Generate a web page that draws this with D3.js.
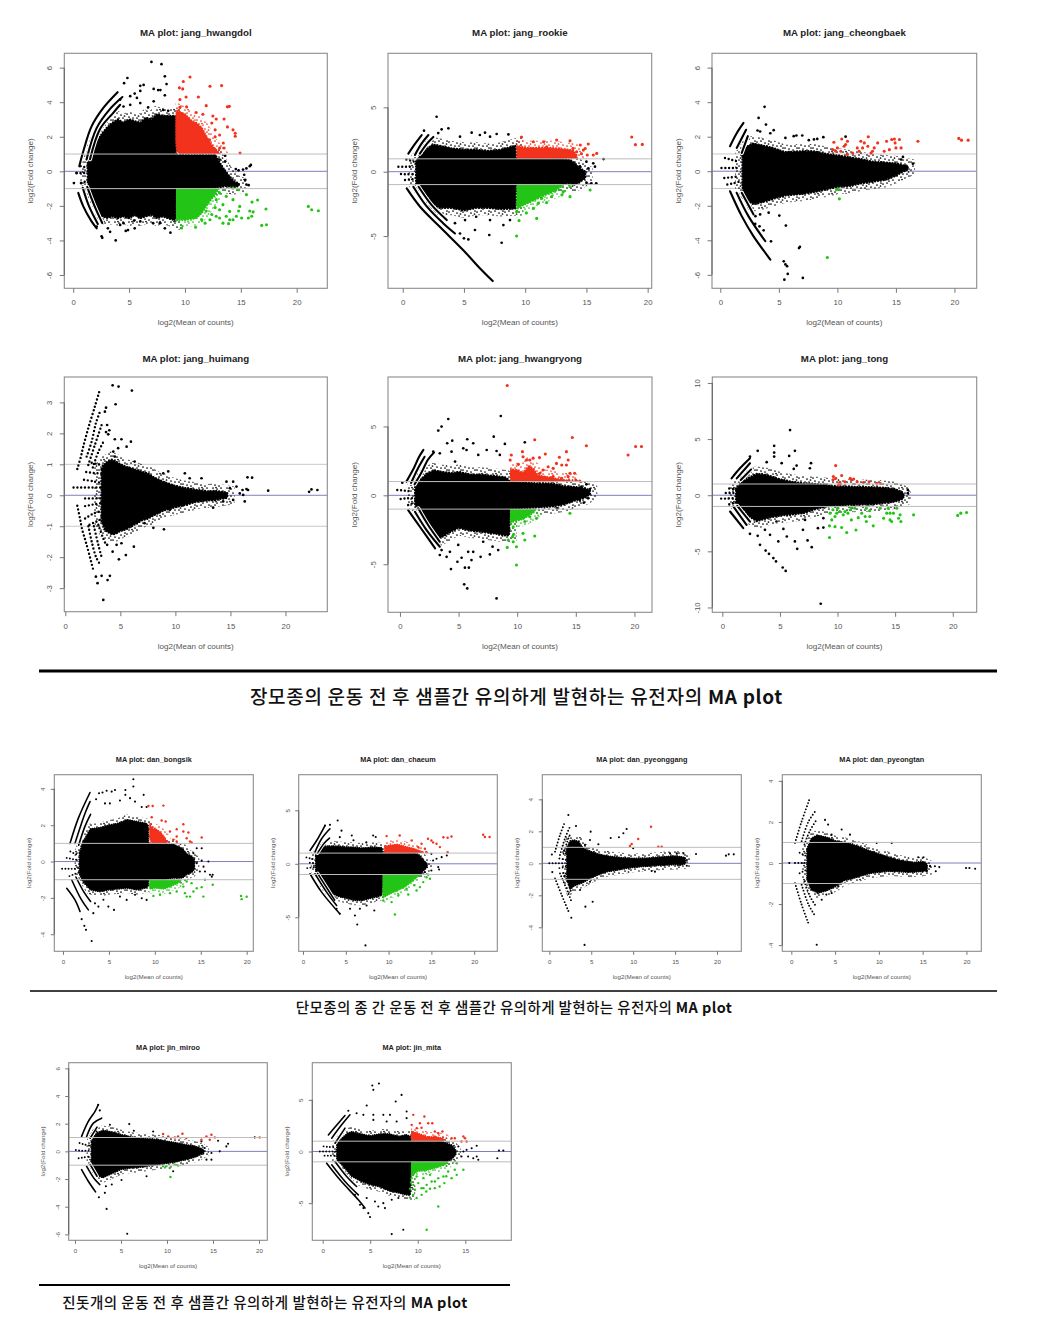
<!DOCTYPE html>
<html><head><meta charset="utf-8">
<script src="https://cdn.jsdelivr.net/npm/d3@7"></script>
<style>html,body{margin:0;padding:0;background:#fff}svg{display:block}</style></head>
<body><svg id="c" width="1043" height="1336"></svg>
<script>
// Every value below was read by eye from the picture. Bands are [A, upper M, lower M]; points are [A, M].
const xTicks = [0,5,10,15,20], xTicksShort = [0,5,10,15];
const yTicks6 = [-6,-4,-2,0,2,4,6], yTicks5 = [-5,0,5], yTicks4 = [-4,-2,0,2,4], yTicks3 = [-3,-2,-1,0,1,2,3], yTicks10 = [-10,-5,0,5,10];

const hwangdolMass = [[1.3,.5,-.6],[1.7,1.1,-1.5],[2.2,1.8,-2.3],[2.6,2.2,-2.6],[3,2.5,-2.7],[3.5,2.8,-2.6],[4,3,-2.7],[4.5,2.8,-2.6],[5,3,-2.7],[5.5,2.9,-2.5],[6,2.8,-2.7],[6.5,3.1,-2.6],[7,3,-2.5],[7.5,3.3,-2.7],[8,3.2,-2.6],[8.5,3.2,-2.7],[9.15,3.2,-2.85],[9.2,.95,-1],[12.7,.95,-.95],[13.2,.4,-.9],[13.6,0,-.85],[14.4,-.6,-.9],[14.8,-.7,-.85]];
const hwangdolRedBand = [[9.15,3.2,1.8],[9.3,3.5,1.2],[9.6,3.4,1],[10,3.3,1],[10.6,2.9,1],[11,2.8,1],[11.5,2.5,1],[12,1.9,1],[12.4,1.5,1],[12.9,1.15,1],[13.1,1,1]];
const hwangdolGreenBand = [[9.2,-1,-2.8],[10,-1,-2.8],[11,-1,-2.7],[11.5,-1,-2.4],[12,-1,-1.9],[12.5,-1,-1.5],[12.8,-1,-1.2],[13,-1,-1]];
const hwangdolArcs = [[[.54,.29],[.9,1.16],[1.64,2.6],[2.69,3.67],[3.97,4.58]],[[1.19,.68],[2.09,2.5],[3.28,3.6],[4.4,4.3]],[[1.5,.7],[2.4,2.45],[3.6,3.4],[4.2,3.85]],[[.45,-1.25],[.9,-2.03],[1.64,-2.9],[2.1,-3.3]],[[.85,-.95],[1.4,-2],[2.2,-3.05]],[[1.25,-.9],[1.9,-2],[2.6,-3]]];
const hwangdolRows = [[[.3,-.1],[.75,-.1],[1.2,-.1]],[[.7,-.68],[1.05,-.6],[1.3,-.5]],[[.65,.3],[1,.25],[1.3,.2]]];
const hwangdolBlack = [[7,6.33],[7.9,6.2],[8.2,5.5],[4.85,5.4],[4.55,5.1],[6,4.95],[6.3,5],[6,4.65],[5.5,4.5],[5.1,4.35],[7.2,4.77],[7.6,4.7],[7.8,4.7],[8.35,5.05],[8.2,4.4],[7.2,4.05],[6.7,3.7],[6,3.95],[5.7,4.25],[5.1,3.85],[4.5,3.75],[8.05,3.55],[8.5,3.5],[4.2,4.15],[2.54,-3.76],[2.6,-3.85],[3.8,-4],[3.1,-3.3],[3.3,-3.5],[2.1,-3.2],[4.7,-3.45],[5.5,-3.3],[4.9,-3.4],[5.45,-2.85],[7.15,-3],[8.2,-3.3],[8.7,-3.55],[6,-2.9],[4.2,-3.1],[4.5,-3],[7.75,-3],[13.6,.9],[13.1,.68],[14.55,.13],[14.8,.06],[15.2,.1],[15.5,.17],[15.8,.3],[15.9,.37],[15.3,-.2],[15.4,-.5],[15.7,-.8],[15.5,-.77],[14.1,-.7],[14.8,-.77],[13.7,-.3],[13.4,.1],[13.6,.58],[.06,-.68],[.3,-.1],[.7,-.68]];
const hwangdolRed = [[9.85,5.2],[10.45,5.46],[9.5,4.83],[9.8,4.77],[12.24,4.92],[13.28,4.96],[11.2,4.3],[10.1,4.3],[9.55,4.15],[11.9,3.8],[13.8,3.73],[13.97,3.76],[12.8,3.03],[13.5,3.03],[13.8,2.57],[14.3,2.4],[14.5,2.2],[14.5,2.03],[13.43,1.64],[13.5,1.35],[14.93,1.06],[12.4,2.8],[12.7,2.4],[13.1,2.1],[12.5,3.2],[11.6,3.3],[11,3.4],[10.15,3.73],[9.55,3.7],[13.1,1.35],[12.8,1.15],[12.2,1.83],[12.7,2]];
const hwangdolGreen = [[9.7,-3.28],[9.25,-2.8],[10.95,-3.24],[11.8,-3],[12.24,-2.8],[12.8,-2.6],[13.4,-3],[13.9,-3.03],[14.3,-2.8],[14.8,-2.3],[15.07,-2.7],[15.67,-2.7],[15.97,-2.6],[16.1,-2.35],[15.8,-2.3],[16,-1.78],[16.5,-1.66],[17.25,-2.18],[16.87,-3.13],[17.3,-3.09],[21.04,-2.03],[21.34,-2.22],[21.94,-2.28],[15.5,-1.35],[14.8,-1.06],[14.3,-.97],[13.1,-1.25],[13.7,-1.45],[12.8,-1.64],[13.4,-1.93],[14.3,-1.64],[14.9,-2.03],[14,-2.32],[13.1,-2.22],[12.7,-2.1],[12.4,-2.5],[11.5,-2.8],[11.9,-2.3],[13.7,-2.6],[13.1,-2.7],[14.6,-2.6],[14,-2.8]];

const rookieMass = [[1.1,.8,-.9],[2,1.8,-1.8],[2.5,2.1,-2.5],[3,2,-2.8],[4,1.8,-2.8],[5,1.7,-3],[6,1.7,-2.8],[7,1.6,-2.8],[8,1.7,-2.9],[9.2,2,-2.85],[9.25,1,-1],[13,1,-1],[13.6,.9,-.9],[14,.7,-1],[14.4,.3,-.8],[14.9,0,-.5]];
const rookieRedBand = [[9.3,2,1],[10,1.85,1],[12,1.85,1],[13,1.75,1],[13.9,1.65,1],[14.2,1.25,1]];
const rookieGreenBand = [[9.3,-1,-2.9],[9.8,-1,-2.6],[10.5,-1,-2.3],[11.5,-1,-1.85],[12.5,-1,-1.45],[13,-1,-1.1]];
const rookieArcs = [[[.46,1.4],[.93,2.07],[1.55,2.85]],[[1,1.3],[1.55,2.2],[2.1,2.85]],[[1.4,1.4],[2,2.2],[2.5,2.7]],[[.33,-1.3],[1.4,-2.7],[3.05,-4.3],[4.95,-6.1],[6.3,-7.5],[7.35,-8.5]],[[.87,-1.17],[1.96,-2.7],[3.3,-4],[4.27,-4.8]],[[1.3,-1.17],[2.37,-2.6],[3.6,-3.76]]];
const rookieRows = [[[-.35,.39],[.27,.39],[.8,.39]],[[-.14,-.18],[.4,-.2],[.95,-.2]],[[.19,-.65],[.6,-.6],[1,-.55]],[[.3,.95],[.7,.85],[1,.75]]];
const rookieBlack = [[2.77,4.27],[1.74,3.19],[3.18,3.29],[3.73,3.37],[2.9,3],[5.63,3.03],[6.72,3.03],[7.67,2.93],[8.63,2.9],[6.3,2.85],[4.68,2.72],[7.13,2.72],[8.08,-5.52],[7.07,-4.92],[5.36,-5.26],[5,-5.18],[5.9,-4.53],[5.09,-3.76],[4.27,-4],[4.68,-4.8],[8.22,-4.15],[7.13,-3.76],[6,-3.5],[8.76,-3.76],[16.4,.98],[15.56,.65],[15,.78],[15,-.85],[15.4,-.9],[15.8,-.9],[14.5,-.26],[13.9,.39],[15.16,.26],[15.7,.39],[14.47,.39]];
const rookieRed = [[9.7,2.7],[18.7,2.7],[19,2.1],[19.56,2.12],[12.57,2.46],[13.66,2.4],[14.5,2.07],[15.15,2.15],[14.9,1.8],[14.6,1.4],[15.84,1.42],[15.56,1.3],[15.07,1.3],[11.5,2.33],[10.67,2.33],[11.75,1.94],[14.2,1.55],[14.75,1.68],[13.9,1.8]];
const rookieGreen = [[9.5,-3.8],[10.94,-3.63],[9.3,-5],[10.1,-3.2],[9.3,-3.1],[12.3,-1.3],[13,-1.8],[13.66,-1.94],[13.66,-1.17],[13.1,-1.55],[15.3,-1.42],[11.75,-2.4],[11.35,-2.07],[12.16,-1.94],[10.67,-2.85],[11.07,-2.46]];

const cheongbaekMass = [[1.9,.9,-.9],[2.2,1.4,-1.6],[2.8,1.6,-1.9],[3.5,1.5,-1.8],[4.5,1.35,-1.6],[5.5,1.1,-1.4],[7,1.15,-1.3],[8,1.15,-1.2],[9,1,-1.05],[10,.9,-.9],[11,.8,-.85],[12,.7,-.7],[13,.55,-.6],[14,.5,-.5],[15,.45,-.25],[15.5,.35,-.05],[16,.3,.1]];
const cheongbaekArcs = [[[.83,1.45],[1.4,2.2],[1.98,2.8]],[[1.4,1.35],[2.2,2.4]],[[1.83,1.06],[2.35,2.03]],[[.83,-1.16],[1.83,-2.6],[2.84,-3.77],[4.27,-5.12]],[[1.4,-1.25],[2.4,-2.6],[3.84,-4.05]],[[1.83,-1.25],[2.84,-2.5]]];
const cheongbaekRows = [[[.1,.19],[.69,.19],[1.2,.19],[1.7,.19]],[[.34,-.39],[.95,-.35],[1.5,-.3]],[[.4,.77],[1,.65],[1.6,.55]],[[.6,-.77],[1.1,-.7],[1.65,-.6]]];
const cheongbaekBlack = [[3.78,3.73],[3.27,3.09],[3.9,2.7],[3.18,2.36],[3.4,2.3],[4.56,2.38],[4.27,2.2],[6.27,2.03],[7,2.07],[6.5,2.07],[5.56,1.93],[8,1.84],[8.8,1.97],[10.7,2],[8.28,1.87],[7.56,1.8],[16.45,.44],[15.73,.29],[15.44,.68],[15.6,.83],[2.98,-3.05],[3.35,-3.19],[3.7,-3.42],[4.33,-4.06],[5.04,-2.57],[5.6,-3.15],[6.8,-4.38],[6.72,-4.45],[5.42,-5.22],[5.56,-5.4],[5.7,-5.5],[5.76,-5.95],[5.47,-6.28],[7.05,-6.18],[3.4,-2.5],[4.13,-2.4],[3,-2.6]];
const cheongbaekRed = [[9.7,1.68],[10,1.35],[10.57,1.45],[10.86,1.74],[10.37,1.87],[11.3,1.06],[12,1.74],[12.15,1.35],[12.6,1.45],[12.64,2],[13,1.16],[13.44,1.64],[13.15,1.35],[14.2,1.74],[14.44,1.25],[14.64,1.84],[14.93,1.64],[15.3,1.84],[15.44,1.35],[16.88,1.74],[20.37,1.9],[20.6,1.8],[21.17,1.8],[9.86,1.16],[10.29,1.16],[10.7,1.55],[11.86,1.16],[12.3,1.64],[14,1.16],[15,1.35],[14.87,1.87],[10.86,.97],[11.7,1.35],[12.87,1.06],[9.6,1.25]];
const cheongbaekGreen = [[10.06,-1.02],[9.92,-1.07],[10.17,-1.6],[9.14,-5]];

const huimangMass = [[3.3,.85,-.85],[3.7,1.05,-1.15],[4.2,1.15,-1.25],[4.5,1.1,-1.25],[5,1,-1.15],[5.5,.92,-1.1],[6,.87,-1],[7,.75,-.8],[7.5,.7,-.75],[8,.58,-.65],[9,.42,-.48],[10,.3,-.38],[11,.22,-.3],[12,.17,-.2],[13,.12,-.16],[13.5,.14,-.16],[14,.12,-.12],[14.7,.08,-.08]];
const huimangRows = [[[1.09,.85],[1.42,1.25],[1.63,1.57],[2.09,2.17],[2.69,2.87],[3.09,3.35]],[[1.94,1.25],[2.39,1.73],[2.78,2.33],[3.15,2.7]],[[2.09,.98],[2.69,1.63],[3.3,2.27]],[[2.5,.9],[3,1.4],[3.5,1.75]],[[.75,.25],[1.4,.25],[1.9,.25],[2.4,.25],[2.9,.25],[3.4,.25]],[[1.7,.5],[2.6,.45],[3.3,.4]],[[1.9,.75],[2.6,.72],[3.3,.7]],[[2.4,1.05],[3,1],[3.5,.95]],[[1.8,-.1],[2.5,-.1],[3.3,-.1]],[[1.8,-.35],[2.5,-.3],[3.3,-.25]],[[1.8,-.75],[2.5,-.6],[3.3,-.5]],[[2.2,-.95],[2.8,-.85],[3.4,-.75]],[[1.09,-.34],[1.33,-.74],[1.51,-1.07],[1.94,-1.6],[2.54,-2.41]],[[2.1,-1],[2.4,-1.5],[2.8,-2],[3.1,-2.2]],[[2.6,-1],[3,-1.6],[3.3,-2]],[[3,-.95],[3.4,-1.35],[3.7,-1.6]]];
const huimangBlack = [[4.3,3.55],[4.84,3.51],[6.05,3.38],[4.57,2.94],[3.7,2.83],[3.6,2.7],[3.8,2.27],[3.7,2.04],[4,2.1],[3.9,1.97],[4.5,1.81],[5.1,1.81],[5.96,1.73],[5.57,1.57],[4.8,1.52],[4.36,1.41],[4.5,1.25],[6.3,1.09],[2.78,-2.63],[3.3,-2.6],[4.05,-2.6],[3.84,-2.74],[2.93,-2.84],[3.45,-3.38],[4.87,-2.07],[5.5,-1.93],[6.23,-1.66],[4.3,-1.82],[4.66,-1.6],[5.1,-1.55],[3.8,-1.6],[8.96,-1.1],[8,-1.05],[7.2,-.9],[16.55,.58],[16.97,.57],[18.43,.15],[22.15,.11],[22.36,.19],[22.9,.17],[16.46,.2],[16.6,.17],[16.1,.17],[14.64,.44],[15.25,.44],[15.55,.28],[15.85,.06],[16.16,.01],[14.95,.23],[15.25,-.15],[16.3,-.2],[14.34,-.2],[13.43,-.4],[10.86,.71],[12.37,.55],[11.3,.55],[9.35,.77],[8.9,.71],[9.5,-.47],[10.7,-.31]];

const hwangryongMass = [[1.3,.7,-.7],[1.8,1.15,-1.35],[2.3,1.55,-2.1],[2.9,1.8,-2.85],[3.5,1.7,-3.05],[4.5,1.6,-2.55],[5,1.7,-2.35],[6,1.5,-2.55],[7,1.5,-2.65],[8,1.4,-2.75],[9,1.3,-2.9],[9.3,1.1,-2.9],[9.35,1,-1],[12,.85,-.85],[13,.85,-.8],[14,.65,-.65],[15,.6,-.35],[15.8,.5,-.15],[16.2,.35,.1]];
const hwangryongRedBand = [[9.4,1.9,1],[10,1.8,1],[10.5,1.6,1],[11,2.1,1],[11.4,1.9,1],[11.7,1.45,1],[13,1.25,1],[14,1.1,1],[14.5,1.05,1]];
const hwangryongGreenBand = [[9.4,-1,-2],[9.8,-1,-1.85],[10.5,-1,-1.7],[11,-1,-1.45],[11.5,-1,-1.15]];
const hwangryongArcs = [[[.55,1],[1.2,2],[1.6,2.75],[2,3.3]],[[.95,.9],[1.5,1.9],[2.1,2.8]],[[1.25,.8],[1.8,1.6],[2.4,2.6],[2.9,3.1]],[[.7,-1.07],[1.7,-2.28],[3,-3.85]],[[1.28,-1.19],[2.27,-2.52],[3.4,-3.73]],[[1.56,-.94],[2.4,-2.15],[3.4,-3.37]]];
const hwangryongRows = [[[-.23,.39],[.43,.34],[1,.3]],[[.06,-.27],[.5,-.22],[1.1,-.2]],[[.7,-.7],[1,-.6],[1.3,-.5]]];
const hwangryongBlack = [[8.6,5.76],[4.12,5.54],[3.55,4.99],[3.27,4.7],[5.74,4.07],[4.46,3.97],[4.03,3.78],[8,4.26],[8.95,3.73],[6.25,3.78],[10.65,3.85],[5.4,3.41],[5.68,3.29],[7.4,3.29],[8.24,3.22],[8.52,2.93],[4.4,3.17],[3.4,3.05],[2.84,3.17],[6.68,2.93],[4.7,2.45],[8.24,-7.48],[5.48,-6.46],[5.74,-6.76],[4.35,-5.35],[4.9,-4.82],[5.54,-5.25],[5.88,-5.25],[5.26,-4.53],[6.1,-4.7],[6.25,-4.1],[6.88,-4.46],[7.67,-4.29],[7.9,-3.73],[8.38,-3.97],[3.4,-4.33],[3.98,-4.46],[4.26,-4.1],[4.97,-3.6],[5.82,-4.1],[7.1,-3.37],[3.55,-3.97],[16.2,.46],[15.9,.8],[15.48,.63],[16.05,-.22],[15.68,-.53],[15.34,-.34],[13.4,-.94],[12.8,-.7],[.2,.92]];
const hwangryongRed = [[9.15,7.97],[11.5,4.04],[14.7,4.2],[15.9,3.6],[19.46,2.93],[20.1,3.54],[20.6,3.54],[14.2,3.17],[12.4,3],[11.9,2.74],[11.36,2.7],[11.08,2.57],[10.45,3.17],[10.5,2.8],[9.5,2.93],[9.4,2.57],[13.6,2.76],[14.35,2.57],[13.35,2.32],[13.8,2.2],[14.2,2.2],[12.64,2.08],[14.5,1.6],[14.9,1.6],[15,1.11],[15.34,1.04],[14.35,1.36],[13.07,1.96],[11.93,1.6],[12.2,1.84],[10.1,2.25],[10.8,2.57],[13.8,1.23],[13.07,1.36]];
const hwangryongGreen = [[9.94,-5.06],[14.5,-1.3],[11.65,-1.67],[11.5,-2.95],[10.65,-3.24],[10.5,-2.76],[9.94,-3.73],[9.15,-3.78],[9.23,-3.24],[9.6,-3],[9.66,-2.28],[10.65,-1.9],[11.08,-1.55],[9.66,-3.37],[9.7,-2.83]];

const tongMass = [[1.2,.6,-.7],[1.8,1.25,-1.25],[2.5,1.65,-2],[3,1.9,-2.3],[4,1.75,-2],[5,1.4,-1.8],[6,1.2,-1.7],[7,1.05,-1.6],[8,1,-1.25],[9,.9,-1],[9.5,.8,-.95],[11,.75,-.85],[13,.7,-.8],[14,.65,-.7],[15,.55,-.55],[15.7,.2,-.3]];
const tongArcs = [[[.8,1.5],[1.53,2.4],[2.4,3.3]],[[1.25,1.5],[2.4,2.85]],[[1.6,1.35],[2.5,2.3]],[[.67,-1.45],[1.82,-2.94]],[[.95,-1],[2.1,-2.64]],[[1.3,-.95],[2.4,-2.35]]];
const tongRows = [[[-.1,-.3],[.5,-.3],[1.1,-.25]],[[.3,.2],[.7,.2],[1.15,.2]],[[.6,.6],[1,.55]],[[.6,-.8],[1,-.7]]];
const tongBlack = [[5.88,5.8],[4.5,4.4],[3.07,3.95],[6.3,3.95],[4.5,3.8],[5.8,3.5],[4.5,3.44],[2.4,3.44],[3.85,2.94],[7.7,2.85],[5.15,2.85],[6.45,2.64],[6.2,2.34],[7.6,2.4],[8.54,-9.67],[5.5,-6.74],[5.24,-6.44],[4.66,-5.9],[4.43,-5.6],[4.05,-5.22],[3.76,-4.93],[3.27,-4.42],[7.76,-4.63],[6.5,-4.78],[6.3,-4.12],[7.4,-4.03],[5.6,-3.68],[4.86,-4.12],[2.4,-3.44],[3.07,-3.62],[4.14,-3.53],[3.7,-3.08],[5.3,-3],[8.3,-2.94],[8.77,-2.88],[7,-3.08],[8.77,-2.05],[7.18,-2.2],[4.7,-2.34],[16.1,.47],[16.1,.18],[15.7,-.03],[15,-.4]];
const tongRed = [[9.84,2.64],[9.64,1.66],[9.84,1.5],[10.36,1.75],[9.6,1.37],[10.2,1.16],[10.65,1.2],[11.1,1.5],[11.4,1.45],[11.7,1.2],[12.24,1.13],[12.74,1.2],[13.4,1.07],[13.7,1.07],[10.07,.92],[11.2,1.37]];
const tongGreen = [[9.3,-3.77],[9.3,-2.73],[9.78,-2.8],[10.36,-2.88],[10.8,-3.32],[11.6,-3.1],[13.1,-2.73],[9.5,-2.2],[9.93,-1.6],[10.5,-1.75],[11.1,-1.3],[11.5,-1.16],[11.8,-2],[11.2,-2.2],[12.5,-1.16],[12.8,-1.37],[12.4,-1.9],[12.5,-2.34],[12.8,-1.9],[13.7,-1.16],[14.4,-1.16],[14.56,-1.6],[14.27,-1.6],[14.56,-2.2],[14.85,-1.6],[15.14,-1.16],[15.43,-1.75],[15.3,-2.05],[15.5,-2.34],[16.6,-1.75],[20.43,-1.8],[20.7,-1.6],[21.2,-1.54],[10.2,-1.45],[10.65,-1.45],[9.6,-1.3],[9.35,-1.6],[9.78,-1.9],[14,-2.05],[12.1,-1.6],[10.9,-1.6],[10,-1.16],[14.7,-2.34],[11.2,-1.1]];

const bongsikMass = [[1.8,.5,-.7],[2.2,1.1,-1.1],[3,1.8,-1.55],[4,1.85,-1.65],[5,2,-1.55],[6,2.1,-1.5],[7,2.3,-1.45],[8,2.2,-1.55],[9,2.1,-1.45],[9.25,2,-1.35],[9.3,1,-1],[11,.95,-1],[12,.95,-.9],[13,.7,-.9],[13.5,.4,-.7],[14,.3,-.6],[14.3,.1,-.4]];
const bongsikRedBand = [[9.4,2.1,1.3],[9.7,1.8,1],[10,1.8,1],[10.5,1.65,1],[11,1.35,1],[11.3,1.1,1]];
const bongsikGreenBand = [[9.4,-1,-1.5],[10,-1,-1.45],[11,-1,-1.5],[12,-1,-1.3],[12.8,-1,-1.1]];
const bongsikArcs = [[[.76,1],[1.67,2.39],[2.94,3.8]],[[1.3,1],[2.4,2.66],[2.94,3.3]],[[1.7,.9],[2.4,1.95],[3,2.6]],[[.4,-1.47],[1.3,-2.11],[1.85,-2.75]],[[.94,-1],[2,-2.1],[2.76,-2.66]],[[1.4,-.85],[2.3,-1.7],[3,-2.2]]];
const bongsikRows = [[[-.1,-.4],[.4,-.4],[.8,-.4],[1.2,-.4],[1.7,-.35]],[[.4,.2],[.9,.15],[1.4,.1],[1.8,.1]],[[.8,.55],[1.2,.45],[1.7,.35]],[[.7,-.8],[1.2,-.7],[1.7,-.6]]];
const bongsikBlack = [[7.66,4.53],[7.66,4.13],[8.78,3.67],[6.79,3.94],[6.79,3.67],[5.66,3.94],[4.75,3.9],[3.92,3.76],[4.3,3.8],[5.3,3.85],[3.6,3.43],[4.57,3.2],[5.1,3.2],[6.2,3.36],[7.3,3.49],[7.84,3.3],[8.57,3],[9.1,3],[3.12,-4.37],[2.5,-3.76],[2.32,-3.54],[2.03,-3.17],[3.3,-2.84],[5.55,-2.66],[4.94,-2.48],[3.85,-2.48],[6.93,-2.11],[7.84,-1.83],[8.57,-2.02],[9.1,-2.11],[4.4,-2.1],[6.2,-1.93],[3.48,-2.3],[16.3,-.73],[16,-.73],[15.83,0],[15.1,.05],[15.1,.73],[14.56,.73],[14.2,.46],[15.46,-.55],[14.9,-.55],[14.56,-.09],[14.2,-.28],[15.3,-.28],[16.2,-.83]];
const bongsikRed = [[9.3,3.06],[9.76,3.06],[10.93,3.08],[13.1,2.05],[15.1,1.32],[13.65,1.6],[13.1,1.65],[12.38,1.78],[13.83,1.1],[13.47,1.28],[12.38,1.38],[11.65,1.65],[11.18,2.2],[10.74,2.26],[9.66,2.44],[14,1.05],[12,1.2],[12.38,1.1]];
const bongsikGreen = [[19.38,-1.89],[19.45,-2.07],[20,-1.94],[15.28,-1.93],[16.3,-1.28],[15.46,-1],[15.1,-1.41],[14.56,-1.47],[13.83,-1.93],[13.47,-1.93],[13.28,-1.74],[12.38,-1.65],[14.2,-1.65],[13.1,-1.38],[9.84,-1.89],[10.56,-1.83],[11.65,-1.74],[14,-1.19],[13.47,-1.1]];

const chaeumMass = [[1.5,.8,-.8],[2,1.3,-1.4],[2.5,1.6,-2.1],[3,1.65,-2.55],[4,1.65,-3],[5,1.55,-3.2],[6,1.55,-3.4],[7,1.45,-3.4],[8,1.55,-3.2],[9.2,1.5,-2.95],[9.3,1,-1],[13,1,-1],[13.4,.9,-1],[13.8,.6,-.9],[14.1,.3,-.6],[14.5,0,-.3]];
const chaeumRedBand = [[9.5,1.6,1],[10,1.7,1],[11,1.8,1],[12,1.6,1],[13,1.4,1],[14,1.1,1]];
const chaeumGreenBand = [[9.3,-1,-3.2],[10,-1,-2.85],[11,-1,-2.5],[12,-1,-2.1],[13,-1,-1.45],[13.6,-1,-1.05]];
const chaeumArcs = [[[.82,1.25],[1.6,2.18],[2.57,3.58]],[[1.4,1.09],[2.18,2.34],[3.15,3.27]],[[1.7,1],[2.5,1.95],[3.1,2.4]],[[.82,-.93],[2.18,-2.65],[4.3,-4.67]],[[1.4,-.93],[2.76,-2.65],[3.93,-3.9]],[[1.7,-.9],[2.9,-2.4],[3.7,-3.4]]];
const chaeumRows = [[[.4,.6],[.9,.5],[1.4,.4]],[[.5,-.4],[.95,-.35],[1.45,-.3]],[[.8,.1],[1.4,.05]]];
const chaeumBlack = [[4.05,4.05],[4.5,3.1],[3.15,3.64],[2.57,3.58],[4.3,2.49],[5.7,2.65],[8.2,2.65],[8.5,2.5],[7.4,2],[5.9,2.2],[7.3,-7.63],[6.34,-5.67],[8.33,-4.36],[6.07,-4.83],[6.65,-4.2],[4.3,-4.67],[3.93,-4.2],[5.5,-4.2],[7.43,-3.9],[16.8,.78],[16.2,.62],[15.8,-.31],[15.9,-.53],[15.2,.31],[15.6,.47],[15,-.62],[14.24,-.78],[15,.93]];
const chaeumRed = [[21.05,2.71],[21.25,2.5],[21.8,2.5],[17.35,2.55],[16.9,2.43],[16.4,2.49],[16.9,1.09],[16,1.56],[15.2,2],[14.6,2.34],[15.6,1.87],[15,2.18],[9.77,2.59],[11.3,2.65],[12.7,2.18],[13.85,1.87],[14.24,1.4],[14.43,1.09],[13.46,1.56]];
const chaeumGreen = [[10.74,-4.74],[9.38,-3.43],[10.35,-3.58],[11.13,-2.96],[12.3,-2.87],[13.27,-2.49],[13.66,-2.18],[14.83,-1.4],[14.43,-1.25],[14.05,-1.71],[13,-2],[12.1,-2.34],[14.63,-1.03]];

const pyeonggangMass = [[2.1,.9,-.95],[2.5,1.4,-1.6],[3,1.45,-1.4],[3.5,1.35,-1.3],[4,.95,-1.2],[5,.72,-.9],[6,.55,-.68],[7,.45,-.5],[8,.38,-.42],[9,.33,-.33],[10,.3,-.25],[11,.3,-.2],[12,.33,-.17],[13,.38,-.12],[14,.42,-.1],[15,.45,-.08],[15.8,.4,-.08],[16.2,.35,-.04]];
const pyeonggangRows = [[[.68,.73],[1.27,1.77],[1.87,2.6]],[[1.27,.52],[1.87,1.56],[2.47,2.3]],[[1.7,.6],[2.1,1.3],[2.5,1.85]],[[.68,-.94],[1.47,-1.98],[2.27,-2.98]],[[1.27,-.63],[2.27,-1.88],[2.65,-2.4]],[[1.7,-.6],[2.2,-1.2],[2.6,-1.8]],[[0,0],[.6,0],[1.2,0],[1.8,0]],[[1.2,.3],[1.7,.25],[2.1,.2]],[[1.2,-.3],[1.7,-.25],[2.1,-.2]],[[1.75,.8],[2,.6]],[[1.75,-.8],[2,-.6]]];
const pyeonggangBlack = [[2.27,3.02],[3.18,2.33],[9.22,2.15],[8.83,1.88],[8.3,1.63],[7.32,1.58],[4.93,1.98],[4.85,1.46],[5.85,1.19],[4.25,1.15],[10,.94],[4.3,-2.71],[5.17,-2.4],[4.2,-5.1],[2.62,-3.4],[17.5,.58],[21.07,.48],[21.4,.56],[22,.56],[14.4,.62],[15.2,.62],[16,.62],[16.4,.2],[16.4,-.15],[15.6,-.1],[12.6,-.52],[12.2,-.48],[3.66,-1.67],[4.85,-1.15],[.3,.55],[.35,-.55]];
const pyeonggangRed = [[12.13,2.29],[10.6,1.52],[9.82,1.21],[9.62,1.08],[13,1.04],[13.4,1.04]];

const pyeongtanMass = [[1.8,.7,-.8],[2.3,1.2,-1.3],[3,1.35,-1.45],[4,1.25,-1.35],[5,1.08,-1.15],[6,1,-.85],[7,.9,-.75],[8,.75,-.62],[9,.58,-.5],[10,.44,-.44],[11,.3,-.4],[12,.17,-.4],[13,.08,-.44],[14,.03,-.44],[15,.06,-.4],[15.5,-.05,-.36]];
const pyeongtanRows = [[[.42,.98],[1.18,2.03],[2.06,3.09]],[[1.18,1.06],[1.94,2],[2.7,2.5]],[[1.5,.9],[2.1,1.55],[2.8,2.05]],[[.42,-.98],[1.18,-2.03],[1.94,-2.93]],[[1.18,-1.06],[1.94,-2],[2.6,-2.5]],[[1.5,-.9],[2.1,-1.6],[2.8,-2.1]],[[.8,0],[1.3,0],[1.8,0]],[[.95,.5],[1.4,.4],[1.9,.3]],[[.95,-.5],[1.4,-.4],[1.9,-.3]]];
const pyeongtanBlack = [[2.9,-3.98],[3.85,2.1],[4.2,1.87],[5.75,1.63],[4.6,1.38],[9.75,.98],[11.47,.98],[6.7,1.38],[4,-1.54],[4.6,-1.46],[5.37,-1.14],[3.47,-1.79],[21,-.28],[20.34,-.24],[19.96,-.24],[16.9,-.2],[16.4,-.16],[16.5,-.4],[15.1,.28],[14.5,.28],[15.85,-.16],[15.47,-.4],[-.23,0],[.42,0]];

const mirooMass = [[1.8,.7,-.8],[2.3,1.3,-1.65],[3,1.5,-1.9],[4,1.4,-1.6],[5,1.2,-1.3],[6,1.05,-1.2],[7,.95,-1.15],[8,.9,-1.05],[9,.85,-.95],[10,.72,-.85],[11,.62,-.75],[12,.48,-.58],[13,.38,-.42],[13.8,.18,-.18],[14,.1,-.1]];
const mirooArcs = [[[.72,1.08],[1.45,2.16],[2.17,2.88],[2.53,3.37]],[[1.27,1.08],[2,2.04],[2.9,2.4]],[[1.65,.95],[2.4,1.75]],[[.72,-1.32],[1.45,-2.16],[2.24,-2.93]],[[1.27,-1.08],[2.17,-2.04],[2.7,-2.4]],[[1.65,-.95],[2.4,-1.8]]];
const mirooRows = [[[.1,.1],[.6,.05],[1.2,.05],[1.7,.05]],[[.4,-.5],[.9,-.45],[1.7,-.35]],[[.5,.6],[1,.5],[1.7,.4]]];
const mirooBlack = [[3.44,-4.16],[5.68,-5.96],[2.6,-3.32],[3.25,-3],[3.36,-2.52],[4,-2.4],[5.06,-2.07],[5.9,1.97],[2.53,3.37],[2.7,2.96],[3.8,1.92],[7.78,-1.8],[8.5,1.44],[6.4,1.49],[19.53,1.01],[16.64,.55],[16.45,.36],[15.73,0],[14.83,-.12],[14.29,-.6],[15.55,.77],[14.83,-.6],[13.74,.72],[14.1,.24],[10.67,-1.44],[2.35,1.44]];
const mirooRed = [[20.07,1.01],[9.58,1.25],[10.13,1.08],[10.85,1.01],[11.68,1.27],[12.1,.96],[14.29,1.08],[14.83,1.2],[15.19,1.01],[14.65,.84],[13.74,.84],[11.2,1.08]];
const mirooGreen = [[10.38,-1.85],[9.58,-1.08],[9.9,-1.08],[10.3,-1.2],[11.2,-1.03],[10.85,-.96]];

const mitaMass = [[1.5,.7,-.8],[2,1.25,-1.25],[2.6,1.75,-1.9],[3,1.9,-2.35],[4,1.7,-2.85],[5,1.5,-3.2],[6,1.7,-3.4],[7,1.7,-3.8],[8,1.45,-4],[8.8,1.6,-4.2],[9.2,1.45,-4.2],[9.3,1,-1],[12.5,1,-1],[13,.8,-1],[13.6,.6,-.7],[14,.1,-.3]];
const mitaRedBand = [[9.3,1.95,1],[10,1.75,1],[11,1.4,1],[12,1.4,1],[12.7,1.25,1]];
const mitaGreenBand = [[9.3,-1,-2.4],[10,-1,-1.9],[11,-1,-1.8],[12,-1,-1.55],[13,-1,-1.2]];
const mitaArcs = [[[.6,1.6],[1.65,2.74],[2.35,3.48]],[[.95,1.29],[2,2.58],[2.87,3.55]],[[1.3,.8],[2.35,2.26]],[[.42,-1.13],[1.82,-2.74],[3.75,-4.68],[4.45,-5.48]],[[.95,-1.29],[2.35,-2.9],[3.75,-4.2]],[[1.3,-.97],[2.52,-2.42],[3.57,-3.39]]];
const mitaRows = [[[-.3,0],[.3,0],[.9,0],[1.45,0]],[[.1,.5],[.6,.45],[1.2,.4]],[[.2,-.4],[.7,-.4],[1.25,-.4]]];
const mitaBlack = [[5.22,6.39],[5.92,6.58],[5.33,5.97],[8.3,5.48],[7.68,4.84],[4.63,4.45],[2.7,3.94],[3.57,3.7],[4.28,3.55],[5.33,3.55],[6.38,3.55],[7.08,3.55],[8.83,3.87],[8.83,3.23],[7.78,2.9],[5.33,3.06],[6.73,2.9],[7.26,-8],[8.48,-7.58],[4.98,-6.35],[4.8,-5.97],[4.28,-5.48],[3.93,-5.16],[6.55,-5.48],[5.85,-5.32],[5.5,-4.84],[6.38,-5],[7.26,-4.68],[7.96,-4.5],[4.63,-4.5],[3.4,-4.2],[19,.1],[18.54,.1],[18.37,-.65],[16.37,-.8],[15.84,-.65],[16.2,.55],[15.67,.32],[15.14,.16],[14.8,0],[14.6,-.48],[15.3,-.48],[14.27,.48],[16.2,-.48]];
const mitaRed = [[9.53,3.55],[10.7,3.39],[11.1,2.74],[11.53,2.74],[10.23,2.74],[12.6,1.94],[9.9,2.26],[9.36,2.58],[14.97,1.29],[14.6,.97],[13.9,1.29],[13.56,1.29],[15.14,.97],[14.8,1.45],[12.16,1.77],[10.4,2.3],[11.8,1.94]];
const mitaGreen = [[10.94,-7.58],[12.16,-5.32],[9.18,-4.45],[9.88,-4.5],[9.53,-4.2],[10.41,-4.2],[10.6,-3.55],[11.29,-3.6],[11.8,-3.55],[12.3,-3.39],[12.8,-3.06],[13.56,-2.58],[14.1,-2.26],[14.8,-1.77],[14.1,-1.13],[13.9,-1.77],[13.2,-1.94],[12.7,-2.42],[12.16,-2.58],[11.46,-2.9],[10.94,-3.23],[10.06,-3.06],[9.53,-3.23],[11.29,-2.26],[10.6,-2.58],[9.88,-2.42],[9.36,-2.58],[11.8,-2.9],[10.4,-3.55],[9.7,-3.7],[10.9,-3.87],[13,-2.4],[9.3,-3],[9.2,-3.6]];

const captionTexts = ["장모종의 운동 전 후 샘플간 유의하게 발현하는 유전자의 ","단모종의 종 간 운동 전 후 샘플간 유의하게 발현하는 유전자의 ","진돗개의 운동 전 후 샘플간 유의하게 발현하는 유전자의 "];
const captionSuffix = "MA plot";

// Layout: box edges in pixels, axis domains in data units, text sizes per row.
const big = {title:9.7, lab:8.1, tick:7.8, tOff:20, xT:15, xL:35, yT:14, yL:33, tl:4.5, r:1.35, arc:2.1, dot:2.6, hem:15};
const big2 = Object.assign({},big,{tOff:18});
const small = {title:7.3, lab:6.2, tick:6.2, tOff:15, xT:11, xL:26, yT:10.5, yL:25, tl:3.5, r:1.05, arc:1.6, dot:2, hem:10};
const panels = [
 {name:"jang_hwangdol",box:[64.3,327.3,53.3,288.3],dx:[-.8,22.74],dy:[-6.77,6.83],xt:xTicks,yt:yTicks6,mass:hwangdolMass,redBand:hwangdolRedBand,greenBand:hwangdolGreenBand,arcs:hwangdolArcs,rows:hwangdolRows,black:hwangdolBlack,red:hwangdolRed,green:hwangdolGreen,st:big,over:true},
 {name:"jang_rookie",box:[388,651.7,53.3,288.3],dx:[-1.2,20.33],dy:[-9.06,9.2],xt:xTicks,yt:yTicks5,mass:rookieMass,redBand:rookieRedBand,greenBand:rookieGreenBand,arcs:rookieArcs,rows:rookieRows,black:rookieBlack,red:rookieRed,green:rookieGreen,st:big,over:true},
 {name:"jang_cheongbaek",box:[712,976.7,53.3,288.3],dx:[-.71,21.9],dy:[-6.78,6.83],xt:xTicks,yt:yTicks6,mass:cheongbaekMass,arcs:cheongbaekArcs,rows:cheongbaekRows,black:cheongbaekBlack,red:cheongbaekRed,green:cheongbaekGreen,st:big,over:false},
 {name:"jang_huimang",box:[64.3,327.3,377,611.7],dx:[-.09,23.8],dy:[-3.76,3.82],xt:xTicks,yt:yTicks3,mass:huimangMass,rows:huimangRows,black:huimangBlack,st:big2,over:false},
 {name:"jang_hwangryong",box:[388,652,377,612.3],dx:[-1.02,21.5],dy:[-8.49,8.59],xt:xTicks,yt:yTicks5,mass:hwangryongMass,redBand:hwangryongRedBand,greenBand:hwangryongGreenBand,arcs:hwangryongArcs,rows:hwangryongRows,black:hwangryongBlack,red:hwangryongRed,green:hwangryongGreen,st:big2,over:true},
 {name:"jang_tong",box:[712.3,976.7,377,612.3],dx:[-.87,22.08],dy:[-10.43,10.53],xt:xTicks,yt:yTicks10,mass:tongMass,arcs:tongArcs,rows:tongRows,black:tongBlack,red:tongRed,green:tongGreen,st:big2,over:true},
 {name:"dan_bongsik",box:[54.3,253.3,774.7,951.3],dx:[-.95,20.72],dy:[-4.94,4.78],xt:xTicks,yt:yTicks4,mass:bongsikMass,redBand:bongsikRedBand,greenBand:bongsikGreenBand,arcs:bongsikArcs,rows:bongsikRows,black:bongsikBlack,red:bongsikRed,green:bongsikGreen,st:small,over:true},
 {name:"dan_chaeum",box:[298.7,497.3,774.7,951.3],dx:[-.5,22.7],dy:[-8.18,8.33],xt:xTicks,yt:yTicks5,mass:chaeumMass,redBand:chaeumRedBand,greenBand:chaeumGreenBand,arcs:chaeumArcs,rows:chaeumRows,black:chaeumBlack,red:chaeumRed,green:chaeumGreen,st:small,over:true},
 {name:"dan_pyeonggang",box:[542.3,741.3,774.7,951.3],dx:[-.84,22.9],dy:[-5.5,5.54],xt:xTicks,yt:yTicks4,mass:pyeonggangMass,rows:pyeonggangRows,black:pyeonggangBlack,red:pyeonggangRed,st:small,over:true},
 {name:"dan_pyeongtan",box:[782.3,981.3,774.7,951.3],dx:[-1.03,21.7],dy:[-4.3,4.3],xt:xTicks,yt:yTicks4,mass:pyeongtanMass,rows:pyeongtanRows,black:pyeongtanBlack,st:small,over:true},
 {name:"jin_miroo",box:[68.7,267.3,1062.7,1240.3],dx:[-.68,20.9],dy:[-6.43,6.41],xt:xTicks,yt:yTicks6,mass:mirooMass,arcs:mirooArcs,rows:mirooRows,black:mirooBlack,red:mirooRed,green:mirooGreen,st:small,over:true},
 {name:"jin_mita",box:[312.3,511.3,1062.7,1240.3],dx:[-1.09,19.84],dy:[-8.6,8.6],xt:xTicksShort,yt:yTicks5,mass:mitaMass,redBand:mitaRedBand,greenBand:mitaGreenBand,arcs:mitaArcs,rows:mitaRows,black:mitaBlack,red:mitaRed,green:mitaGreen,st:small,over:true}
];
const rules = [{x1:39,x2:997,y:671,w:3},{x1:30,x2:997,y:991,w:1.5},{x1:39,x2:510,y:1285,w:2}];
const captions = [{x:516.5,y:704,size:19,ls:.7},{x:514,y:1013,size:14.5,ls:.4},{x:265,y:1308,size:14.5,ls:.5}];

const svg = d3.select("#c");
const defs = svg.append("defs");
defs.append("filter").attr("id","soft").append("feGaussianBlur").attr("stdDeviation",.38);
// Stipple tile that gives the dense bands their grainy edge (a drawing style, not data).
const stippleTile = [[1,2],[5,1],[9,3],[13,1],[3,5],[7,6],[11,6],[1,8],[5,9],[9,10],[13,8],[3,12],[7,13],[11,12],[12.5,4],[6,11.5]];
const FONT = '"Liberation Sans",Arial,sans-serif';
const RED = "#f2301a", GREEN = "#22c414";
[["k","#000"],["r",RED],["g",GREEN]].forEach(([id,col])=>{
  const pat = defs.append("pattern").attr("id","st"+id).attr("patternUnits","userSpaceOnUse").attr("width",14).attr("height",14);
  pat.selectAll("circle").data(stippleTile).join("circle").attr("cx",d=>d[0]).attr("cy",d=>d[1]).attr("r",.85).attr("fill",col);
});

panels.forEach((p,pi)=>{
  const [L,R,T,B] = p.box, s = p.st;
  const x = d3.scaleLinear().domain(p.dx).range([L,R]);
  const y = d3.scaleLinear().domain(p.dy).range([B,T]);
  const g = svg.append("g");
  const marks = g.append("g").attr("filter","url(#soft)");
  const band = d3.area().x(d=>x(d[0])).y0(d=>y(d[2])).y1(d=>y(d[1]));
  const line = d3.line().x(d=>x(d[0])).y(d=>y(d[1])).curve(d3.curveCatmullRom);
  const limit = (v,c,w)=>marks.append("line").attr("x1",L).attr("x2",R).attr("y1",y(v)).attr("y2",y(v)).attr("stroke",c).attr("stroke-width",w);
  const dots = (list,c,r)=>marks.append("g").selectAll("circle").data(list||[]).join("circle").attr("cx",d=>x(d[0])).attr("cy",d=>y(d[1])).attr("r",r).attr("fill",c);
  const grained = (data,col,id,clip)=>{
    const h = marks.append("g");
    if(clip){
      const cid = `clip${pi}${id}`;
      defs.append("clipPath").attr("id",cid).append("rect").attr("x",clip[0]).attr("y",clip[1]).attr("width",clip[2]-clip[0]).attr("height",clip[3]-clip[1]);
      h.attr("clip-path",`url(#${cid})`);
    }
    h.append("path").attr("d",band(data)).attr("fill","none").attr("stroke",`url(#st${id})`).attr("stroke-width",s.hem);
    h.append("path").attr("d",band(data)).attr("fill",col).attr("stroke",col).attr("stroke-width",s.arc*1.2).attr("stroke-linecap","round").attr("stroke-dasharray","0 "+(s.arc*1.35));
  };

  limit(0,"#7f7fc0",1);
  if(!p.over){limit(1,"#c8c8c8",1);limit(-1,"#c8c8c8",1);}
  grained(p.mass,"#000","k");
  // white casing carves the thin gaps between the low-count arcs
  (p.arcs||[]).forEach(a=>marks.append("path").attr("d",line(a)).attr("fill","none").attr("stroke","#fff").attr("stroke-width",s.arc+2).attr("stroke-linecap","round"));
  (p.arcs||[]).forEach(a=>marks.append("path").attr("d",line(a)).attr("fill","none").attr("stroke","#000").attr("stroke-width",s.arc).attr("stroke-linecap","round"));
  (p.rows||[]).forEach(a=>marks.append("path").attr("d",line(a)).attr("fill","none").attr("stroke","#000").attr("stroke-width",s.arc+.3).attr("stroke-linecap","round").attr("stroke-dasharray","0 "+(s.dot+1.2)));
  dots(p.black,"#000",s.r);
  if(p.redBand) grained(p.redBand,RED,"r",[x(p.redBand[0][0]),T,R,y(1)]);
  if(p.greenBand) grained(p.greenBand,GREEN,"g",[x(p.greenBand[0][0]),y(-1),R,B]);
  dots(p.red,RED,s.r*1.15);
  dots(p.green,GREEN,s.r*1.15);
  if(p.over){limit(1,"#bdbdbd",1);limit(-1,"#bdbdbd",1);}

  marks.append("rect").attr("x",L).attr("y",T).attr("width",R-L).attr("height",B-T).attr("fill","none").attr("stroke","#8c8c8c").attr("stroke-width",1.1);

  const ax = g.append("g").attr("transform",`translate(0,${B})`).call(d3.axisBottom(x).tickValues(p.xt).tickSize(s.tl).tickFormat(d=>d));
  const ay = g.append("g").attr("transform",`translate(${L},0)`).call(d3.axisLeft(y).tickValues(p.yt).tickSize(s.tl).tickFormat(d=>String(d)));
  [ax,ay].forEach(a=>{a.select(".domain").remove();a.selectAll("line").attr("stroke","#777");a.selectAll("text").attr("fill","#555").attr("font-family",FONT).attr("font-size",s.tick);});
  ax.selectAll("text").attr("y",0).attr("dy",0).attr("dominant-baseline","middle").attr("transform",`translate(0,${s.xT})`);
  ay.selectAll("text").attr("x",0).attr("dy",0).attr("text-anchor","middle").attr("dominant-baseline","middle").attr("transform",`translate(${-s.yT},0) rotate(-90)`);
  g.append("line").attr("x1",L).attr("x2",L).attr("y1",y(p.yt[0])).attr("y2",y(p.yt[p.yt.length-1])).attr("stroke","#666").attr("stroke-width",1.1);

  g.append("text").attr("x",(L+R)/2).attr("y",T-s.tOff).attr("text-anchor","middle").attr("dominant-baseline","middle").attr("font-family",FONT).attr("font-weight","bold").attr("font-size",s.title).attr("fill","#222").text("MA plot: "+p.name);
  g.append("text").attr("x",(L+R)/2).attr("y",B+s.xL).attr("text-anchor","middle").attr("dominant-baseline","middle").attr("font-family",FONT).attr("font-size",s.lab).attr("fill","#555").text("log2(Mean of counts)");
  g.append("text").attr("transform",`translate(${L-s.yL},${(T+B)/2}) rotate(-90)`).attr("text-anchor","middle").attr("dominant-baseline","middle").attr("font-family",FONT).attr("font-size",s.lab).attr("fill","#555").text("log2(Fold change)");
});

svg.append("g").selectAll("line").data(rules).join("line").attr("x1",d=>d.x1).attr("x2",d=>d.x2).attr("y1",d=>d.y).attr("y2",d=>d.y).attr("stroke","#000").attr("stroke-width",d=>d.w);
captions.forEach((c,i)=>{
  const t = svg.append("text").attr("x",c.x).attr("y",c.y).attr("text-anchor","middle").attr("font-family",'"Noto Sans CJK KR","Noto Sans",sans-serif').attr("font-weight",500).attr("font-size",c.size).attr("letter-spacing",c.ls).attr("fill","#111");
  t.append("tspan").text(captionTexts[i]);
  t.append("tspan").attr("font-weight",700).text(captionSuffix);
});
</script></body></html>
